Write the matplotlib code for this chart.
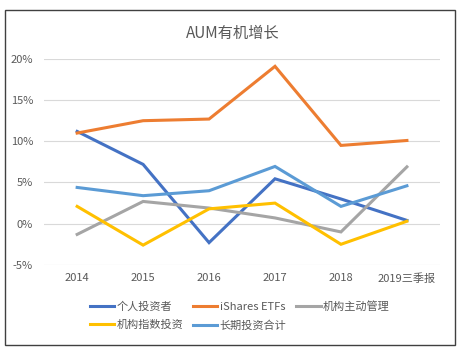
import matplotlib
matplotlib.use("Agg")
import matplotlib.pyplot as plt
from matplotlib.patches import Rectangle
from matplotlib.ticker import FuncFormatter

plt.rcParams['font.family'] = ['Noto Sans CJK SC', 'DejaVu Sans']

years = ['2014', '2015', '2016', '2017', '2018', '2019三季报']

retail = [11.2, 7.2, -2.3, 5.45, 3.0, 0.4]          ## 个人投资者
ishares = [11.0, 12.5, 12.7, 19.1, 9.5, 10.1]       ## iShares ETFs
active = [-1.3, 2.7, 1.9, 0.7, -1.0, 6.9]           ## 机构主动管理
index_inst = [2.1, -2.6, 1.8, 2.5, -2.5, 0.3]       ## 机构指数投资
longterm = [4.4, 3.4, 4.0, 6.95, 2.1, 4.6]          ## 长期投资合计

series = [
    ('个人投资者', retail, '#4472C4'),
    ('iShares ETFs', ishares, '#ED7D31'),
    ('机构主动管理', active, '#A5A5A5'),
    ('机构指数投资', index_inst, '#FFC000'),
    ('长期投资合计', longterm, '#5B9BD5'),
]

fig = plt.figure(figsize=(4.65, 3.57), dpi=100)
ax = fig.add_axes([0.095, 0.258, 0.851, 0.577])

x = list(range(len(years)))
lines = []
for name, vals, col in series:
    ln, = ax.plot(x, vals, color=col, lw=2.2, label=name, solid_joinstyle='miter')
    lines.append(ln)

ax.set_xlim(-0.5, 5.5)
ax.set_ylim(-5, 20)
ax.set_yticks([-5, 0, 5, 10, 15, 20])
ax.yaxis.set_major_formatter(FuncFormatter(lambda v, p: '%d%%' % v))
ax.set_xticks(x)
ax.set_xticklabels(years)
ax.grid(axis='y', color='#D9D9D9', lw=0.8)
ax.set_axisbelow(True)
for s in ax.spines.values():
    s.set_visible(False)
ax.tick_params(length=0, labelsize=8, colors='#595959', pad=6)
ax.tick_params(axis='y', pad=8)

fig.text(0.5, 0.905, 'AUM有机增长', ha='center', va='center', fontsize=11, color='#595959')

# legend fills column by column, so reorder to get rows like the original
order = [0, 3, 1, 4, 2]
leg = fig.legend([lines[i] for i in order], [series[i][0] for i in order],
                 loc='upper left', bbox_to_anchor=(0.183, 0.17), ncol=3, frameon=False,
                 fontsize=8, handlelength=2.2, handletextpad=0.2, columnspacing=0.9,
                 labelspacing=0.75, borderaxespad=0)
for t in leg.get_texts():
    t.set_color('#595959')

fig.patches.append(Rectangle((0.011, 0.033), 0.968, 0.94, transform=fig.transFigure,
                             fill=False, edgecolor='#404040', lw=1.0))

fig.savefig('out.png', dpi=100)
